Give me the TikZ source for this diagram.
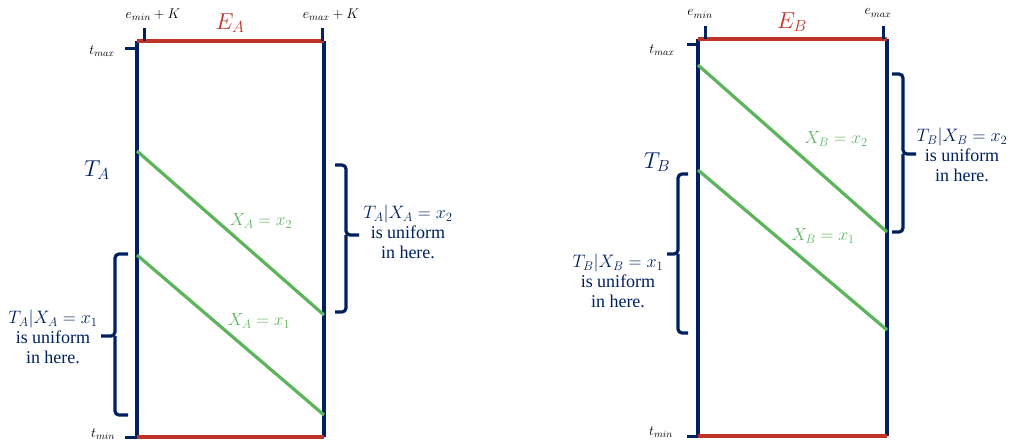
\RequirePackage{fix-cm}
\documentclass[tikz,border=0pt]{standalone}
\usepackage{fontspec}
\setmainfont{Liberation Serif}
\definecolor{navy}{RGB}{0,32,96}
\definecolor{dred}{RGB}{192,52,40}
\definecolor{lgreen}{RGB}{92,180,92}
\begin{document}
\begin{tikzpicture}[x=1pt,y=-1pt,
  frame/.style={navy,line width=3.3pt},
  edgeline/.style={dred,line width=3.3pt},
  tickmark/.style={navy,line width=3pt},
  diag/.style={lgreen,line width=3.2pt},
  bracepath/.style={navy,line width=3.2pt,rounded corners=4pt},
  small/.style={text=black,inner sep=0pt,font=\fontsize{14}{16}\selectfont},
  axisname/.style={inner sep=0pt,font=\fontsize{23}{26}\selectfont},
  glabel/.style={text=lgreen,inner sep=0pt,font=\fontsize{17.5}{20}\selectfont},
  note/.style={text=navy,inner sep=0pt,align=center,font=\fontsize{18}{20}\selectfont},
]
\useasboundingbox (0,0) rectangle (1014,446);

% ---------------- Box A ----------------
\coordinate (Atl) at (137,41);
\coordinate (Atr) at (324,41);
\coordinate (Abl) at (137,437);
\coordinate (Abr) at (324,437);
\draw[frame] (Atl) -- (Abl);
\draw[frame] (Atr) -- (Abr);
\draw[edgeline] (Atl) -- (Atr);
\draw[edgeline] (Abl) -- (Abr);

\coordinate (Aemin1) at (144,28);
\coordinate (Aemin2) at (144,41);
\coordinate (Aemax1) at (322,28);
\coordinate (Aemax2) at (322,41);
\coordinate (Atmax1) at (125,49);
\coordinate (Atmax2) at (137,49);
\coordinate (Atmin1) at (125,437);
\draw[tickmark] (Aemin1) -- (Aemin2);
\draw[tickmark] (Aemax1) -- (Aemax2);
\draw[tickmark] (Atmax1) -- (Atmax2);
\draw[tickmark] (Atmin1) -- (Abl);

\node[small] (LeminA) at (153,15) {$e_{min}+K$};
\node[small] (LemaxA) at (331,15) {$e_{max}+K$};
\node[small] (LtmaxA) at (102,51) {$t_{max}$};
\node[small] (LtminA) at (103,434) {$t_{min}$};
\node[axisname,text=dred] (EA) at (230,23) {$E_A$};
\node[axisname,text=navy] (TA) at (97,170) {$T_A$};

\coordinate (A2s) at (137,151);
\coordinate (A2e) at (324,315);
\coordinate (A1s) at (137,255);
\coordinate (A1e) at (324,415);
\draw[diag] (A2s) -- (A2e);
\draw[diag] (A1s) -- (A1e);
\node[glabel] (XA2) at (261,221) {$X_A=x_2$};
\node[glabel] (XA1) at (259,321) {$X_A=x_1$};

% left brace A
\coordinate (ALbT) at (128,254);
\coordinate (ALbTip) at (101,336);
\coordinate (ALbB) at (128,415);
\draw[bracepath] (ALbT) -- (115,254) -- (115,336) -- (ALbTip);
\draw[bracepath] (115,336) -- (115,415) -- (ALbB);
\node[note] (NA1) at (53,337) {$T_A|X_A=x_1$\\is uniform\\in here.};

% right brace A
\coordinate (ARbT) at (335,165);
\coordinate (ARbTip) at (359,235);
\coordinate (ARbB) at (335,312);
\draw[bracepath] (ARbT) -- (346,165) -- (346,235) -- (ARbTip);
\draw[bracepath] (346,235) -- (346,312) -- (ARbB);
\node[note] (NA2) at (408,232) {$T_A|X_A=x_2$\\is uniform\\in here.};

% ---------------- Box B ----------------
\coordinate (Btl) at (698,39);
\coordinate (Btr) at (887,39);
\coordinate (Bbl) at (698,436);
\coordinate (Bbr) at (887,436);
\draw[frame] (Btl) -- (Bbl);
\draw[frame] (Btr) -- (Bbr);
\draw[edgeline] (Btl) -- (Btr);
\draw[edgeline] (Bbl) -- (Bbr);

\coordinate (Bemin1) at (705,26);
\coordinate (Bemin2) at (705,39);
\coordinate (Bemax1) at (883,26);
\coordinate (Bemax2) at (883,39);
\coordinate (Btmax1) at (687,45);
\coordinate (Btmax2) at (698,45);
\coordinate (Btmin1) at (687,436);
\draw[tickmark] (Bemin1) -- (Bemin2);
\draw[tickmark] (Bemax1) -- (Bemax2);
\draw[tickmark] (Btmax1) -- (Btmax2);
\draw[tickmark] (Btmin1) -- (Bbl);

\node[small] (LeminB) at (700,14) {$e_{min}$};
\node[small] (LemaxB) at (878,13) {$e_{max}$};
\node[small] (LtmaxB) at (662,50) {$t_{max}$};
\node[small] (LtminB) at (661,432) {$t_{min}$};
\node[axisname,text=dred] (EB) at (792,22) {$E_B$};
\node[axisname,text=navy] (TB) at (657,162) {$T_B$};

\coordinate (B2s) at (698,65);
\coordinate (B2e) at (887,232);
\coordinate (B1s) at (698,170);
\coordinate (B1e) at (887,330);
\draw[diag] (B2s) -- (B2e);
\draw[diag] (B1s) -- (B1e);
\node[glabel] (XB2) at (836,139) {$X_B=x_2$};
\node[glabel] (XB1) at (823,236) {$X_B=x_1$};

% left brace B
\coordinate (BLbT) at (688,174);
\coordinate (BLbTip) at (667,254);
\coordinate (BLbB) at (688,333);
\draw[bracepath] (BLbT) -- (678,174) -- (678,254) -- (BLbTip);
\draw[bracepath] (678,254) -- (678,333) -- (BLbB);
\node[note] (NB1) at (618,281) {$T_B|X_B=x_1$\\is uniform\\in here.};

% right brace B
\coordinate (BRbT) at (892,74);
\coordinate (BRbTip) at (916,154);
\coordinate (BRbB) at (892,232);
\draw[bracepath] (BRbT) -- (903,74) -- (903,154) -- (BRbTip);
\draw[bracepath] (903,154) -- (903,232) -- (BRbB);
\node[note] (NB2) at (962,155) {$T_B|X_B=x_2$\\is uniform\\in here.};
\end{tikzpicture}
\end{document}
